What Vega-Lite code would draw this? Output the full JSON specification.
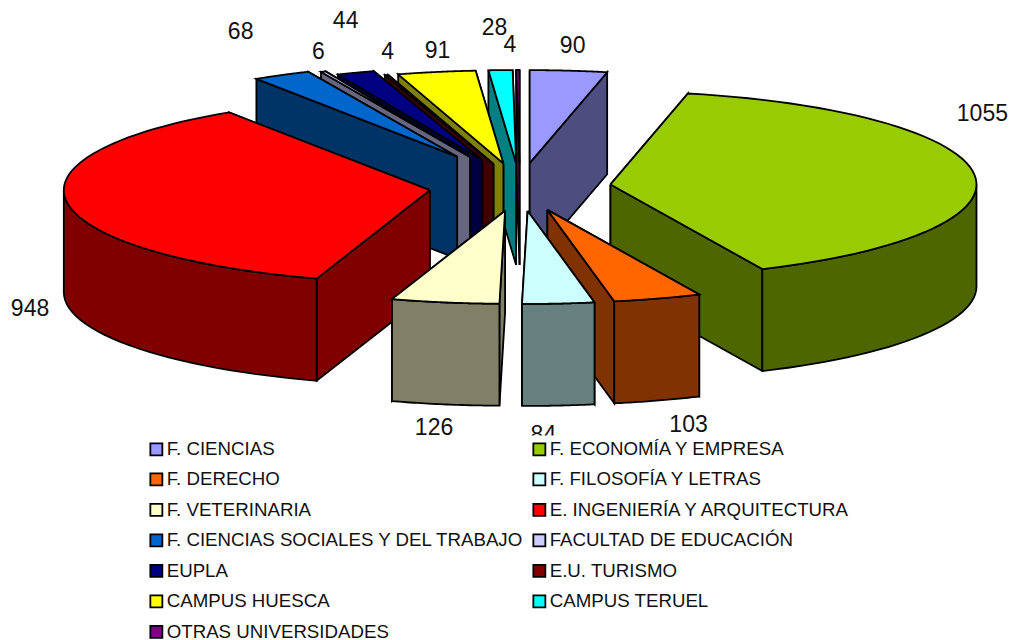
{
"$schema":"https://vega.github.io/schema/vega-lite/v6.json",
"width":1015,"height":640,"padding":0,"autosize":{"type":"none"},"background":"white",
"config":{"view":{"stroke":null}},
"params":[{"name":"cx","value":520},{"name":"cy","value":187},{"name":"rx","value":366},{"name":"ry","value":93},{"name":"ex","value":91},{"name":"ey","value":24},{"name":"fondo","value":102}],
"data":{"values":[
{"centro":"F. CIENCIAS","valor":90,"orden":1},
{"centro":"OTRAS UNIVERSIDADES","valor":4,"orden":13},
{"centro":"CAMPUS TERUEL","valor":28,"orden":12},
{"centro":"CAMPUS HUESCA","valor":91,"orden":11},
{"centro":"E.U. TURISMO","valor":4,"orden":10},
{"centro":"EUPLA","valor":44,"orden":9},
{"centro":"FACULTAD DE EDUCACIÓN","valor":6,"orden":8},
{"centro":"F. CIENCIAS SOCIALES Y DEL TRABAJO","valor":68,"orden":7},
{"centro":"F. ECONOMÍA Y EMPRESA","valor":1055,"orden":2},
{"centro":"E. INGENIERÍA Y ARQUITECTURA","valor":948,"orden":6},
{"centro":"F. DERECHO","valor":103,"orden":3},
{"centro":"F. VETERINARIA","valor":126,"orden":5},
{"centro":"F. FILOSOFÍA Y LETRAS","valor":84,"orden":4}
]},
"transform":[
{"window":[{"op":"sum","field":"valor","as":"acum"}],"sort":[{"field":"orden","order":"ascending"}],"frame":[null,0]},
{"joinaggregate":[{"op":"sum","field":"valor","as":"total"}]},
{"calculate":"2*PI*(datum.acum-datum.valor)/datum.total","as":"a0"},
{"calculate":"2*PI*datum.acum/datum.total","as":"a1"},
{"calculate":"(datum.a0+datum.a1)/2","as":"am"},
{"calculate":"({'F. CIENCIAS SOCIALES Y DEL TRABAJO':1.44,'FACULTAD DE EDUCACIÓN':1.37,'EUPLA':1.2})[datum.centro]||1","as":"sep"},
{"calculate":"cx+datum.sep*ex*sin(datum.am)","as":"tx"},
{"calculate":"cy-datum.sep*ey*cos(datum.am)","as":"ty"}
],
"layer":[
{
"transform":[
{"calculate":"cos(datum.a0)>=cos(datum.a1)?['ini','fin','pared','sup']:['fin','ini','pared','sup']","as":"caras"},
{"flatten":["caras"],"as":["cara"]},
{"filter":"datum.cara!='pared'||(datum.a1>PI/2&&datum.a0<3*PI/2)"},
{"calculate":"sequence(0,61)","as":"vs"},
{"flatten":["vs"],"as":["k"]},
{"calculate":"max(datum.a0,PI/2)","as":"b0"},
{"calculate":"min(datum.a1,3*PI/2)","as":"b1"},
{"calculate":"datum.cara=='sup'?((datum.k==0||datum.k==60)?0:1):datum.cara=='pared'?1:((datum.k>=15&&datum.k<45)?1:0)","as":"rad"},
{"calculate":"datum.cara=='sup'?0:((datum.k>=30&&datum.k<60)?1:0)","as":"baja"},
{"calculate":"datum.cara=='sup'?datum.a0+(datum.a1-datum.a0)*clamp((datum.k-1)/58,0,1):datum.cara=='pared'?(datum.k==60?datum.b0:datum.k<30?datum.b0+(datum.b1-datum.b0)*datum.k/29:datum.b1-(datum.b1-datum.b0)*(datum.k-30)/29):datum.cara=='ini'?datum.a0:datum.a1","as":"ang"},
{"calculate":"datum.tx+datum.rad*rx*sin(datum.ang)","as":"px"},
{"calculate":"datum.ty-datum.rad*ry*cos(datum.ang)+datum.baja*fondo","as":"py"},
{"calculate":"datum.centro+'|'+datum.cara","as":"pieza"},
{"calculate":"datum.cara=='sup'?datum.centro:datum.centro+' (lado)'","as":"tono"}
],
"mark":{"type":"line","filled":true,"stroke":"black","strokeWidth":1.8,"strokeJoin":"miter","clip":false,"interpolate":"linear"},
"encoding":{
"x":{"field":"px","type":"quantitative","scale":{"domain":[0,1015],"nice":false,"zero":false},"axis":null},
"y":{"field":"py","type":"quantitative","scale":{"domain":[640,0],"nice":false,"zero":false},"axis":null},
"order":{"field":"k","type":"quantitative"},
"detail":{"field":"pieza","type":"nominal"},
"color":{"field":"tono","type":"nominal",
"scale":{"domain":["F. CIENCIAS","F. ECONOMÍA Y EMPRESA","F. DERECHO","F. FILOSOFÍA Y LETRAS","F. VETERINARIA","E. INGENIERÍA Y ARQUITECTURA","F. CIENCIAS SOCIALES Y DEL TRABAJO","FACULTAD DE EDUCACIÓN","EUPLA","E.U. TURISMO","CAMPUS HUESCA","CAMPUS TERUEL","OTRAS UNIVERSIDADES","F. CIENCIAS (lado)","F. ECONOMÍA Y EMPRESA (lado)","F. DERECHO (lado)","F. FILOSOFÍA Y LETRAS (lado)","F. VETERINARIA (lado)","E. INGENIERÍA Y ARQUITECTURA (lado)","F. CIENCIAS SOCIALES Y DEL TRABAJO (lado)","FACULTAD DE EDUCACIÓN (lado)","EUPLA (lado)","E.U. TURISMO (lado)","CAMPUS HUESCA (lado)","CAMPUS TERUEL (lado)","OTRAS UNIVERSIDADES (lado)"],
"range":["#9999FF","#99CC00","#FF6600","#CCFFFF","#FFFFCC","#FF0000","#0066CC","#CCCCFF","#000080","#800000","#FFFF00","#00FFFF","#800080","#4D4D80","#4D6600","#803300","#668080","#808066","#800000","#003366","#666680","#000040","#400000","#808000","#008080","#400040"]},
"legend":{"values":["F. CIENCIAS","F. ECONOMÍA Y EMPRESA","F. DERECHO","F. FILOSOFÍA Y LETRAS","F. VETERINARIA","E. INGENIERÍA Y ARQUITECTURA","F. CIENCIAS SOCIALES Y DEL TRABAJO","FACULTAD DE EDUCACIÓN","EUPLA","E.U. TURISMO","CAMPUS HUESCA","CAMPUS TERUEL","OTRAS UNIVERSIDADES"],
"title":null,"orient":"none","direction":"horizontal","legendX":143,"legendY":435.5,"columns":2,"symbolType":"square","symbolSize":144,"symbolStrokeColor":"black","symbolStrokeWidth":1.8,"symbolOpacity":1,"labelFont":"Liberation Sans","labelFontSize":18.7,"labelColor":"#111111","labelLimit":0,"labelOffset":1,"rowPadding":9.5,"columnPadding":5,"fillColor":"white","padding":4}}
}
},
{
"transform":[
{"calculate":"({'F. CIENCIAS':[4,-26],'F. ECONOMÍA Y EMPRESA':[8,-62],'F. DERECHO':[31,125],'F. FILOSOFÍA Y LETRAS':[-15,130],'F. VETERINARIA':[-11,124],'E. INGENIERÍA Y ARQUITECTURA':[-37,105],'F. CIENCIAS SOCIALES Y DEL TRABAJO':[-41,-45],'FACULTAD DE EDUCACIÓN':[-5,-21],'EUPLA':[-10,-53],'E.U. TURISMO':[1,-25],'CAMPUS HUESCA':[1,-22],'CAMPUS TERUEL':[-6,-44],'OTRAS UNIVERSIDADES':[-8,-27]})[datum.centro]","as":"aj"},
{"calculate":"datum.tx+rx*sin(datum.am)+datum.aj[0]","as":"lx"},
{"calculate":"datum.ty-ry*cos(datum.am)+datum.aj[1]+1.5","as":"ly"}
],
"mark":{"type":"text","font":"Liberation Sans","fontSize":23,"color":"#111111","align":"center","baseline":"middle"},
"encoding":{
"x":{"field":"lx","type":"quantitative","scale":{"domain":[0,1015],"nice":false,"zero":false},"axis":null},
"y":{"field":"ly","type":"quantitative","scale":{"domain":[640,0],"nice":false,"zero":false},"axis":null},
"text":{"field":"valor","type":"quantitative"}
}
}
]
}
